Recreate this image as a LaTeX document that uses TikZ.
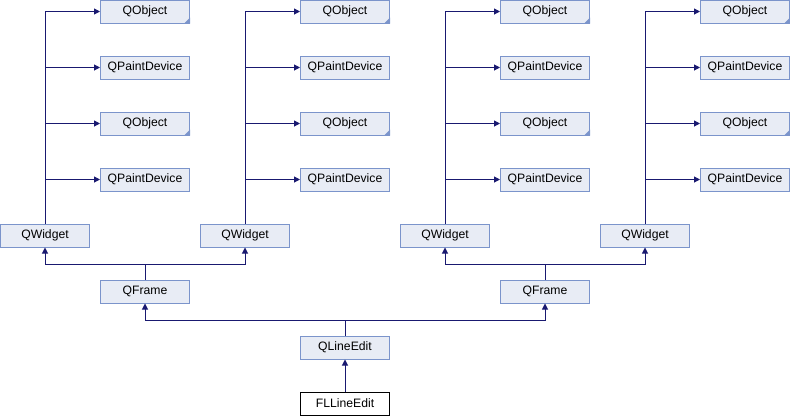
\documentclass[tikz,border=0pt]{standalone}
\usepackage{fontspec}
\setmainfont{Liberation Sans}
\usetikzlibrary{arrows.meta}
\definecolor{boxfill}{HTML}{E8ECF5}
\definecolor{boxline}{HTML}{7B94CB}
\definecolor{edgecol}{HTML}{191970}
\tikzset{
  cls/.style={draw=boxline, fill=boxfill, line width=1pt, minimum width=89pt, minimum height=23pt, inner sep=0pt, font=\fontsize{12.2pt}{14pt}\selectfont},
  mainbox/.style={draw=black, fill=white, line width=1pt, minimum width=89pt, minimum height=23pt, inner sep=0pt, font=\fontsize{12.2pt}{14pt}\selectfont},
  edge/.style={draw=edgecol, line width=1pt, -{Triangle[length=6pt,width=6pt]}},
  trunk/.style={draw=edgecol, line width=1pt},
  corner/.style={fill=boxline}
}
\begin{document}
\begin{tikzpicture}[x=1pt,y=-1pt]
\useasboundingbox (0,0) rectangle (790,416);
\foreach \g in {0,1,2,3}{
  \pgfmathsetmacro{\cx}{145+200*\g}
  \pgfmathsetmacro{\wx}{45+200*\g}
  \node[cls] (oa\g) at (\cx,11.5) {QObject};
  \node[cls] (pa\g) at (\cx,67.5) {QPaintDevice};
  \node[cls] (ob\g) at (\cx,123.5) {QObject};
  \node[cls] (pb\g) at (\cx,179.5) {QPaintDevice};
  \node[cls] (w\g) at (\wx,235.5) {QWidget};
  \fill[corner] (oa\g.south east) -- ++(-6,0) -- ++(6,-6) -- cycle;
  \fill[corner] (ob\g.south east) -- ++(-6,0) -- ++(6,-6) -- cycle;
  \draw[edge] (w\g.north) |- (oa\g.west);
  \draw[edge] (w\g.north) |- (pa\g.west);
  \draw[edge] (w\g.north) |- (ob\g.west);
  \draw[edge] (w\g.north) |- (pb\g.west);
}
\node[cls] (f0) at (145,291.5) {QFrame};
\node[cls] (f1) at (545,291.5) {QFrame};
\node[cls] (le) at (345,347.5) {QLineEdit};
\node[mainbox] (fl) at (345,403.5) {FLLineEdit};
\coordinate (b0) at (145,264);
\coordinate (b1) at (545,264);
\coordinate (b2) at (345,320);
\draw[trunk] (f0.north) -- (b0);
\draw[edge] (b0) -| (w0.south);
\draw[edge] (b0) -| (w1.south);
\draw[trunk] (f1.north) -- (b1);
\draw[edge] (b1) -| (w2.south);
\draw[edge] (b1) -| (w3.south);
\draw[trunk] (le.north) -- (b2);
\draw[edge] (b2) -| (f0.south);
\draw[edge] (b2) -| (f1.south);
\draw[edge] (fl.north) -- (le.south);
\end{tikzpicture}
\end{document}
